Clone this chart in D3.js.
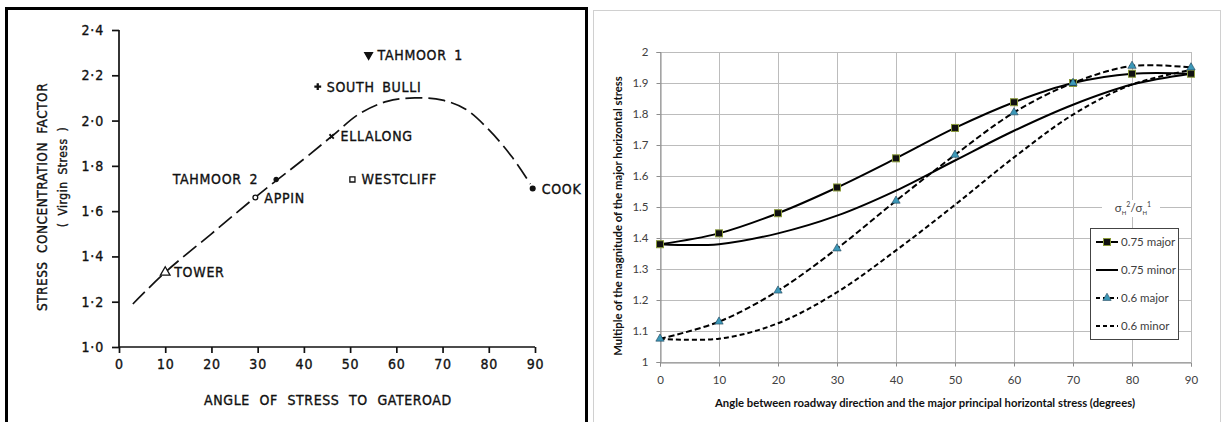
<!DOCTYPE html>
<html>
<head>
<meta charset="utf-8">
<style>
  body { margin: 0; background: #fff; }
  svg { display: block; }
</style>
</head>
<body>
<script src="https://cdn.jsdelivr.net/npm/d3@7"></script>
<script>
// ---- left chart data (scanned figure)
var siteNames   = ["TOWER", "APPIN", "TAHMOOR 2", "ELLALONG", "SOUTH BULLI", "TAHMOOR 1", "WESTCLIFF", "COOK"];
var siteAngles  = [10, 29.5, 34, 46, 43, 54, 50.5, 89.5];
var siteFactors = [1.33, 1.66, 1.74, 1.93, 2.15, 2.29, 1.74, 1.70];
var trendAngles  = [3, 10, 20, 30, 40, 46, 52, 58, 64, 70, 75, 80, 85, 89];
var trendFactors = [1.19, 1.33, 1.50, 1.67, 1.83, 1.93, 2.03, 2.085, 2.10, 2.09, 2.05, 1.96, 1.84, 1.72];
var leftXTicks = [0, 10, 20, 30, 40, 50, 60, 70, 80, 90];
var leftYTicks = [1.0, 1.2, 1.4, 1.6, 1.8, 2.0, 2.2, 2.4];

// ---- right chart data (excel figure)
var angles   = [0, 10, 20, 30, 40, 50, 60, 70, 80, 90];
var major075 = [1.38, 1.415, 1.48, 1.563, 1.657, 1.755, 1.838, 1.90, 1.93, 1.93];
var minor075 = [1.38, 1.38, 1.415, 1.472, 1.553, 1.65, 1.746, 1.83, 1.895, 1.93];
var major06  = [1.075, 1.13, 1.23, 1.366, 1.52, 1.668, 1.805, 1.90, 1.955, 1.95];
var minor06  = [1.075, 1.075, 1.125, 1.225, 1.36, 1.507, 1.66, 1.798, 1.895, 1.942];
var seriesNames = ["0.75 major", "0.75 minor", "0.6 major", "0.6 minor"];
var rightXTicks = [0, 10, 20, 30, 40, 50, 60, 70, 80, 90];
var rightYTicks = [1, 1.1, 1.2, 1.3, 1.4, 1.5, 1.6, 1.7, 1.8, 1.9, 2];

var W = 1226, H = 422;
var svg = d3.select("body").append("svg").attr("width", W).attr("height", H);

// ================= LEFT PANEL =================
var lfont = "'DejaVu Sans Condensed', 'DejaVu Sans', sans-serif";
svg.append("rect").attr("x", 6.5).attr("y", 8.5).attr("width", 580).attr("height", 430)
  .attr("fill", "none").attr("stroke", "#000").attr("stroke-width", 3);

var lx = d3.scaleLinear().domain([0, 90]).range([119, 535]);
var ly = d3.scaleLinear().domain([1.0, 2.4]).range([347, 30]);
var L = svg.append("g").attr("font-family", lfont).attr("fill", "#111");

var dotFmt = function(d) { return d3.format(".1f")(d).replace(".", "\u00b7"); };

function inky(sel) {
  // scanned print looks heavier
  sel.attr("stroke", "#111").attr("stroke-width", 0.35).attr("fill", "#111");
}

var lyAxis = L.append("g").attr("transform", "translate(119,0)")
  .call(d3.axisLeft(ly).tickValues(leftYTicks).tickSize(7).tickPadding(8).tickFormat(dotFmt));
var lxAxis = L.append("g").attr("transform", "translate(0,347)")
  .call(d3.axisBottom(lx).tickValues(leftXTicks).tickSize(6).tickPadding(6).tickFormat(d3.format("d")));
[lyAxis, lxAxis].forEach(function(a) {
  a.selectAll("path").attr("stroke", "#111").attr("stroke-width", 1.7);
  a.selectAll("line").attr("stroke", "#111").attr("stroke-width", 1.7);
  a.selectAll("text").attr("font-size", 14).attr("font-family", lfont).attr("letter-spacing", 0.8).call(inky);
});
lyAxis.select(".domain").attr("d", "M0," + ly(2.4) + "V" + ly(1.0));
lxAxis.select(".domain").attr("d", "M" + lx(0) + ",0H" + lx(90));

// axis titles
L.append("text").attr("x", 328).attr("y", 405).attr("text-anchor", "middle")
  .attr("font-size", 14).attr("letter-spacing", 0.6).attr("word-spacing", 5)
  .text("ANGLE  OF  STRESS  TO  GATEROAD").call(inky);
L.append("text").attr("transform", "translate(47,197) rotate(-90)").attr("text-anchor", "middle")
  .attr("font-size", 13.5).attr("letter-spacing", 0.5).attr("word-spacing", 4)
  .text("STRESS  CONCENTRATION  FACTOR").call(inky);
L.append("text").attr("transform", "translate(67,177) rotate(-90)").attr("text-anchor", "middle")
  .attr("font-size", 12).attr("letter-spacing", 0.5).attr("word-spacing", 3)
  .text("( Virgin  Stress )").call(inky);

// dashed trend
var trendLine = d3.line().curve(d3.curveCatmullRom.alpha(0.5))
  .x(function(d) { return lx(d[0]); }).y(function(d) { return ly(d[1]); });
L.append("path").datum(d3.zip(trendAngles, trendFactors)).attr("d", trendLine)
  .attr("fill", "none").attr("stroke", "#111").attr("stroke-width", 1.7)
  .attr("stroke-dasharray", "17,6");

// site markers
var siteStyle = {
  "TOWER":       { sym: d3.symbolTriangle, size: 40, fill: false, rot: 0 },
  "APPIN":       { sym: d3.symbolCircle,   size: 18, fill: false, rot: 0 },
  "TAHMOOR 2":   { sym: d3.symbolCircle,   size: 14, fill: true,  rot: 0 },
  "ELLALONG":    { sym: d3.symbolTimes,    size: 14, fill: false, rot: 0 },
  "SOUTH BULLI": { sym: d3.symbolCross,    size: 26, fill: true,  rot: 0 },
  "TAHMOOR 1":   { sym: d3.symbolTriangle, size: 26, fill: true,  rot: 180 },
  "WESTCLIFF":   { sym: d3.symbolSquare,   size: 26, fill: false, rot: 0 },
  "COOK":        { sym: d3.symbolCircle,   size: 18, fill: true,  rot: 0 }
};
var sites = siteNames.map(function(n, i) { return { name: n, a: siteAngles[i], f: siteFactors[i] }; });
var sg = L.selectAll("g.site").data(sites).enter().append("g").attr("class", "site")
  .attr("transform", function(d) { return "translate(" + lx(d.a) + "," + ly(d.f) + ")"; });
sg.append("path")
  .attr("d", function(d) { var s = siteStyle[d.name]; return d3.symbol().type(s.sym).size(s.size)(); })
  .attr("transform", function(d) { return "rotate(" + siteStyle[d.name].rot + ")"; })
  .attr("fill", function(d) { return siteStyle[d.name].fill ? "#111" : "#fff"; })
  .attr("stroke", function(d) { return d.name === "SOUTH BULLI" ? "none" : "#111"; })
  .attr("stroke-width", function(d) { return d.name === "ELLALONG" ? 1.8 : 1.3; });
sg.append("text")
  .attr("x", function(d) { return d.name === "TAHMOOR 2" ? -18 : 9; })
  .attr("y", 5)
  .attr("text-anchor", function(d) { return d.name === "TAHMOOR 2" ? "end" : "start"; })
  .attr("font-size", 14).attr("letter-spacing", 0.7).attr("word-spacing", 3)
  .text(function(d) { return d.name; }).call(inky);

// ================= RIGHT PANEL =================
var rfont = "Lato, 'Open Sans', sans-serif";
svg.append("rect").attr("x", 593.5).attr("y", 10.5).attr("width", 627).attr("height", 430)
  .attr("fill", "none").attr("stroke", "#d0d0d0").attr("stroke-width", 1);

var rx = d3.scaleLinear().domain([0, 90]).range([660, 1191]);
var ry = d3.scaleLinear().domain([1, 2]).range([362, 52]);
var R = svg.append("g").attr("font-family", rfont);

// gridlines
R.append("g").selectAll("line").data(rightYTicks).enter().append("line")
  .attr("x1", rx(0)).attr("x2", rx(90))
  .attr("y1", function(d) { return Math.round(ry(d)) + 0.5; })
  .attr("y2", function(d) { return Math.round(ry(d)) + 0.5; })
  .attr("stroke", "#bcbcbc").attr("stroke-width", 1);
R.append("g").selectAll("line").data(rightXTicks).enter().append("line")
  .attr("y1", ry(1)).attr("y2", ry(2))
  .attr("x1", function(d) { return Math.round(rx(d)) + 0.5; })
  .attr("x2", function(d) { return Math.round(rx(d)) + 0.5; })
  .attr("stroke", "#bcbcbc").attr("stroke-width", 1);

var ryAxis = R.append("g").attr("transform", "translate(" + (rx(0) + 0.5) + ",0)")
  .call(d3.axisLeft(ry).tickValues(rightYTicks).tickSize(4).tickPadding(8).tickFormat(d3.format("")));
var rxAxis = R.append("g").attr("transform", "translate(0," + (Math.round(ry(1)) + 0.5) + ")")
  .call(d3.axisBottom(rx).tickValues(rightXTicks).tickSize(4).tickPadding(9).tickFormat(d3.format("d")));
[ryAxis, rxAxis].forEach(function(a) {
  a.selectAll("path").attr("stroke", "#8c8c8c");
  a.selectAll("line").attr("stroke", "#8c8c8c");
  a.selectAll("text").attr("font-size", 11.5).attr("font-family", rfont).attr("fill", "#404040");
});

R.append("text").attr("x", 925).attr("y", 407).attr("text-anchor", "middle")
  .attr("font-size", 11.3).attr("font-weight", "bold").attr("fill", "#111")
  .text("Angle between roadway direction and the major principal horizontal stress (degrees)");
R.append("text").attr("transform", "translate(622,216) rotate(-90)").attr("text-anchor", "middle")
  .attr("font-size", 11.3).attr("font-weight", "bold").attr("fill", "#111")
  .text("Multiple of the magnitude of the major horizontal stress");

var seriesValues = [major075, minor075, major06, minor06];
var seriesDash = ["none", "none", "6,3", "5,3"];
var seriesMarker = ["square", null, "triangle", null];
var smooth = d3.line().curve(d3.curveCatmullRom.alpha(0.5))
  .x(function(d) { return rx(d[0]); }).y(function(d) { return ry(d[1]); });

function drawMarker(sel, kind) {
  if (kind === "square") {
    sel.append("rect").attr("x", -3.5).attr("y", -3.5).attr("width", 7).attr("height", 7)
      .attr("fill", "#111").attr("stroke", "#8a9a3a").attr("stroke-width", 1);
  } else if (kind === "triangle") {
    sel.append("path").attr("d", d3.symbol().type(d3.symbolTriangle).size(30)())
      .attr("fill", "#3c98b8").attr("stroke", "#1d3f55").attr("stroke-width", 0.6);
  }
}

seriesValues.forEach(function(vals, si) {
  R.append("path").datum(d3.zip(angles, vals)).attr("d", smooth)
    .attr("fill", "none").attr("stroke", "#000").attr("stroke-width", 2)
    .attr("stroke-dasharray", seriesDash[si]);
});
seriesValues.forEach(function(vals, si) {
  if (!seriesMarker[si]) return;
  R.selectAll(null).data(d3.zip(angles, vals)).enter().append("g")
    .attr("transform", function(d) { return "translate(" + rx(d[0]) + "," + ry(d[1]) + ")"; })
    .each(function() { drawMarker(d3.select(this), seriesMarker[si]); });
});

// legend
var lg = R.append("g");
lg.append("rect").attr("x", 1102).attr("y", 200).attr("width", 58).attr("height", 17).attr("fill", "#fff");
var lt = lg.append("text").attr("x", 1133).attr("y", 212).attr("text-anchor", "middle")
  .attr("font-size", 11.5).attr("fill", "#404040");
lt.append("tspan").text("\u03c3");
lt.append("tspan").attr("font-size", 6).attr("dy", 3).text("H");
lt.append("tspan").attr("font-size", 7).attr("dy", -8).text("2");
lt.append("tspan").attr("dy", 5).text("/\u03c3");
lt.append("tspan").attr("font-size", 6).attr("dy", 3).text("H");
lt.append("tspan").attr("font-size", 7).attr("dy", -8).text("1");

lg.append("rect").attr("x", 1090.5).attr("y", 228.5).attr("width", 88).attr("height", 111)
  .attr("fill", "#fff").attr("stroke", "#444").attr("stroke-width", 1);
seriesNames.forEach(function(name, i) {
  var yy = 242 + i * 28;
  lg.append("line").attr("x1", 1096).attr("x2", 1118).attr("y1", yy).attr("y2", yy)
    .attr("stroke", "#000").attr("stroke-width", 2).attr("stroke-dasharray", seriesDash[i] === "none" ? null : "4,3");
  if (seriesMarker[i]) {
    drawMarker(lg.append("g").attr("transform", "translate(1107," + yy + ")"), seriesMarker[i]);
  }
  lg.append("text").attr("x", 1121).attr("y", yy + 4).attr("font-size", 11.5).attr("fill", "#404040").text(name);
});
</script>
</body>
</html>
